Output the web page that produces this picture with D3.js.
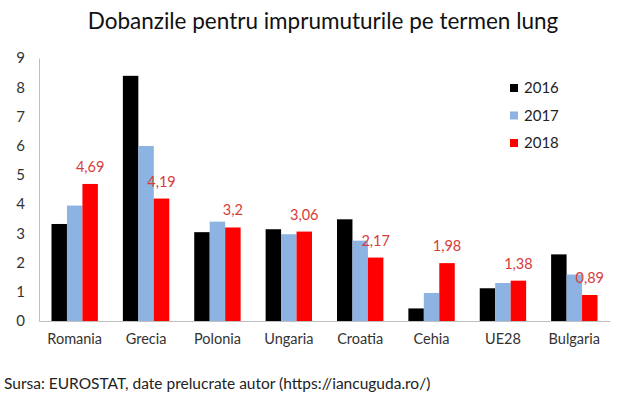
<!DOCTYPE html>
<html>
<head>
<meta charset="utf-8">
<script src="https://cdn.jsdelivr.net/npm/d3@7"></script>
<style>
  body { margin: 0; background: #fff; }
  text { font-family: Lato, "Open Sans", sans-serif; }
</style>
</head>
<body>
<div id="chart"></div>
<script>
var countries = ["Romania", "Grecia", "Polonia", "Ungaria", "Croatia", "Cehia", "UE28", "Bulgaria"];
var years = ["2016", "2017", "2018"];
var v2016 = [3.32, 8.39, 3.04, 3.14, 3.48, 0.43, 1.12, 2.28];
var v2017 = [3.95, 5.99, 3.40, 2.97, 2.75, 0.96, 1.30, 1.59];
var v2018 = [4.69, 4.19, 3.2, 3.06, 2.17, 1.98, 1.38, 0.89];
var labels2018 = ["4,69", "4,19", "3,2", "3,06", "2,17", "1,98", "1,38", "0,89"];
var yTicks = [0, 1, 2, 3, 4, 5, 6, 7, 8, 9];

var colors = {"2016": "#000000", "2017": "#8db3e2", "2018": "#ff0000"};

var W = 627, H = 396;
var margin = {top: 58, right: 17, bottom: 75, left: 39};
var width = W - margin.left - margin.right;
var height = H - margin.top - margin.bottom;

var svg = d3.select("#chart").append("svg")
    .attr("width", W)
    .attr("height", H);

var g = svg.append("g")
    .attr("transform", "translate(" + margin.left + "," + margin.top + ")");

var x = d3.scaleBand()
    .domain(countries)
    .range([0, width])
    .paddingInner(0.35)
    .paddingOuter(0.175);

var xs = d3.scaleBand()
    .domain(years)
    .range([0, x.bandwidth()]);

var y = d3.scaleLinear()
    .domain([0, 9])
    .range([height, 0]);

var rows = countries.map(function(c, i) {
    return {country: c, values: [
        {year: "2016", v: v2016[i]},
        {year: "2017", v: v2017[i]},
        {year: "2018", v: v2018[i]}
    ], label: labels2018[i]};
});

var groups = g.selectAll(".grp")
    .data(rows)
    .enter().append("g")
    .attr("class", "grp")
    .attr("transform", function(d) { return "translate(" + x(d.country) + ",0)"; });

groups.selectAll("rect")
    .data(function(d) { return d.values; })
    .enter().append("rect")
    .attr("x", function(d) { return xs(d.year); })
    .attr("width", xs.bandwidth())
    .attr("y", function(d) { return y(d.v); })
    .attr("height", function(d) { return height - y(d.v); })
    .attr("fill", function(d) { return colors[d.year]; });

// labels for 2018
groups.append("text")
    .attr("x", xs("2018") + xs.bandwidth() / 2)
    .attr("y", function(d) { return y(d.values[2].v) - 12; })
    .attr("text-anchor", "middle")
    .style("font-size", "14.5px")
    .attr("fill", "#d63c3c")
    .text(function(d) { return d.label; });

// axes
var yAxis = g.append("g")
    .call(d3.axisLeft(y).tickValues(yTicks).tickSize(0).tickPadding(14));
yAxis.select(".domain").attr("stroke", "#bfbfbf");
yAxis.selectAll("text")
    .style("font-size", "15px")
    .attr("fill", "#333")
    .style("font-family", "Lato, 'Open Sans', sans-serif");

var xAxis = g.append("g")
    .attr("transform", "translate(0," + height + ")")
    .call(d3.axisBottom(x).tickSize(0).tickPadding(13));
xAxis.select(".domain").attr("stroke", "#bfbfbf");
xAxis.selectAll("text")
    .style("font-size", "14.5px")
    .attr("fill", "#333")
    .style("font-family", "Lato, 'Open Sans', sans-serif");

// legend
var legend = svg.append("g")
    .attr("transform", "translate(510,88)");
years.forEach(function(yr, i) {
    legend.append("rect")
        .attr("x", 0)
        .attr("y", i * 27.5 - 4)
        .attr("width", 8)
        .attr("height", 8)
        .attr("fill", colors[yr]);
    legend.append("text")
        .attr("x", 14)
        .attr("y", i * 27.5 + 5)
        .style("font-size", "15px")
        .attr("fill", "#222")
        .text(yr);
});

// title
svg.append("text")
    .attr("x", 323)
    .attr("y", 29)
    .attr("text-anchor", "middle")
    .style("font-size", "22.5px")
    .attr("fill", "#111")
    .text("Dobanzile pentru imprumuturile pe termen lung");

// source
svg.append("text")
    .attr("x", 4)
    .attr("y", 389)
    .style("font-size", "15.5px")
    .attr("fill", "#222")
    .text("Sursa: EUROSTAT, date prelucrate autor (https://iancuguda.ro/)");
</script>
</body>
</html>
